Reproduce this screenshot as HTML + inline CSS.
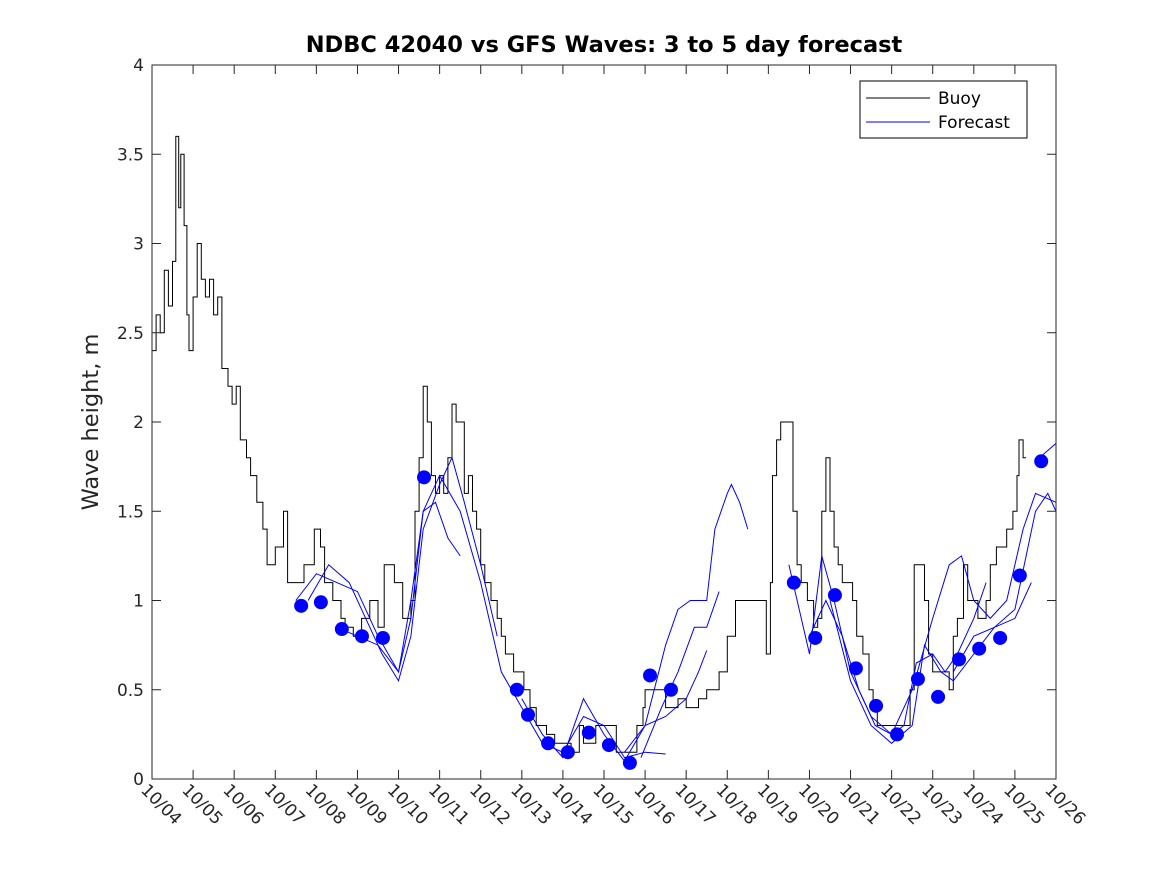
<!DOCTYPE html>
<html><head><meta charset="utf-8"><style>
body{margin:0;background:#fff;}
svg{display:block;font-family:"DejaVu Sans","Liberation Sans",sans-serif;}
</style></head><body>
<svg id="chart" width="1167" height="875" viewBox="0 0 1167 875" xmlns="http://www.w3.org/2000/svg">
<rect x="0" y="0" width="1167" height="875" fill="#fff"/>
<text x="604" y="52" text-anchor="middle" font-size="22.5" font-weight="bold" fill="#000">NDBC 42040 vs GFS Waves: 3 to 5 day forecast</text>
<text transform="translate(98,422) rotate(-90)" text-anchor="middle" font-size="22.5" fill="#262626">Wave height, m</text>
<g id="plot"></g>
<g>
<rect x="860" y="81" width="167" height="57" fill="#fff" stroke="#000" stroke-width="1"/>
<line x1="866" y1="98" x2="930" y2="98" stroke="#000" stroke-width="1"/>
<text x="938" y="104" font-size="17" fill="#000">Buoy</text>
<line x1="866" y1="122" x2="930" y2="122" stroke="#0000ff" stroke-width="1"/>
<text x="938" y="128" font-size="17" fill="#000">Forecast</text>
</g>
</svg>
<script>
const dayLabels=["10/04","10/05","10/06","10/07","10/08","10/09","10/10","10/11","10/12","10/13","10/14","10/15","10/16","10/17","10/18","10/19","10/20","10/21","10/22","10/23","10/24","10/25","10/26"];
const yTicks=[0,0.5,1,1.5,2,2.5,3,3.5,4];
const buoyDays=[0,0.1,0.2,0.3,0.4,0.5,0.58,0.65,0.7,0.78,0.85,0.9,1.0,1.1,1.2,1.3,1.4,1.5,1.6,1.7,1.85,1.95,2.05,2.15,2.3,2.4,2.55,2.7,2.8,3.0,3.1,3.2,3.3,3.6,3.7,3.8,3.95,4.1,4.2,4.4,4.6,4.7,4.9,5.1,5.3,5.5,5.65,5.9,6.1,6.2,6.3,6.4,6.5,6.6,6.7,6.8,6.9,7.0,7.1,7.2,7.3,7.4,7.5,7.6,7.7,7.8,7.9,8.0,8.1,8.25,8.4,8.5,8.6,8.8,8.95,9.05,9.2,9.35,9.6,9.8,10.0,10.2,10.4,10.5,10.7,10.8,11.1,11.3,11.6,11.8,11.95,12.0,12.2,12.5,12.8,13.0,13.3,13.5,13.6,13.8,14.0,14.2,14.5,14.8,14.95,15.05,15.1,15.2,15.3,15.5,15.6,15.7,15.8,15.95,16.1,16.2,16.3,16.4,16.5,16.6,16.7,16.8,17.05,17.15,17.3,17.45,17.55,17.65,17.7,18.45,18.55,18.65,18.8,18.9,19.0,19.2,19.4,19.5,19.6,19.75,19.85,19.95,20.1,20.3,20.4,20.55,20.65,20.8,20.95,21.05,21.1,21.2,21.27,21.3];
const buoyVals=[2.4,2.6,2.5,2.85,2.65,2.9,3.6,3.2,3.5,3.1,2.6,2.4,2.7,3.0,2.8,2.7,2.8,2.6,2.7,2.3,2.2,2.1,2.2,1.9,1.8,1.7,1.55,1.4,1.2,1.3,1.3,1.5,1.1,1.1,1.2,1.2,1.4,1.3,1.1,1.0,0.9,0.85,0.8,0.9,1.0,0.85,1.2,1.1,0.9,0.9,1.0,1.5,1.8,2.2,2.0,1.7,1.6,1.7,1.6,1.8,2.1,2.0,2.0,1.6,1.7,1.5,1.4,1.2,1.1,1.0,0.9,0.8,0.7,0.6,0.6,0.5,0.4,0.3,0.25,0.2,0.2,0.15,0.3,0.2,0.2,0.3,0.3,0.15,0.15,0.3,0.4,0.5,0.5,0.4,0.45,0.4,0.45,0.5,0.5,0.6,0.8,1.0,1.0,1.0,0.7,1.1,1.7,1.9,2.0,2.0,1.5,1.2,1.1,1.0,0.85,0.9,1.5,1.8,1.5,1.3,1.2,1.1,1.0,0.8,0.7,0.5,0.4,0.3,0.3,0.5,1.2,1.2,1.0,0.7,0.6,0.6,0.5,0.8,0.9,1.2,1.0,1.0,0.9,1.0,1.2,1.3,1.3,1.4,1.5,1.7,1.9,1.8];
const dotDays=[3.63,4.11,4.62,5.11,5.62,6.62,8.88,9.15,9.64,10.12,10.63,11.12,11.63,12.12,12.63,15.62,16.14,16.62,17.13,17.62,18.13,18.64,19.13,19.64,20.13,20.64,21.12,21.64];
const dotVals=[0.97,0.99,0.84,0.80,0.79,1.69,0.50,0.36,0.20,0.15,0.26,0.19,0.09,0.58,0.50,1.10,0.79,1.03,0.62,0.41,0.25,0.56,0.46,0.67,0.73,0.79,1.14,1.78];
const fc1=[[3.5,1.0],[4,1.15],[4.5,1.1],[5,1.05],[5.5,0.8],[6,0.6],[6.3,0.9],[6.6,1.5],[6.9,1.55],[7.2,1.35],[7.5,1.25]];
const fc2=[[3.8,1.0],[4.3,1.2],[4.8,1.1],[5.2,0.9],[5.6,0.7],[6.0,0.55],[6.3,0.8],[6.6,1.4],[7.0,1.65],[7.3,1.8],[7.6,1.55],[8.0,1.2],[8.4,0.8]];
const fc3=[[4.5,0.85],[5,0.8],[5.5,0.75],[6.0,0.6],[6.3,1.0],[6.6,1.5],[7.0,1.7],[7.5,1.5],[8.0,1.1],[8.5,0.6],[9.0,0.4],[9.5,0.2],[10,0.15],[10.5,0.35],[11,0.3],[11.5,0.12],[12,0.15],[12.5,0.14]];
const fc4=[[9,0.45],[9.5,0.25],[10,0.12],[10.5,0.45],[11,0.25],[11.5,0.1],[12,0.3],[12.5,0.35],[13,0.45],[13.3,0.6],[13.5,0.72]];
const fc5=[[11.5,0.15],[12,0.3],[12.5,0.75],[12.8,0.95],[13.1,1.0],[13.5,1.0],[13.7,1.4],[14.0,1.6],[14.1,1.65],[14.3,1.55],[14.5,1.4]];
const fc6=[[11.9,0.12],[12.4,0.4],[12.8,0.6],[13.2,0.85],[13.5,0.85],[13.8,1.05]];
const fc7=[[15.5,1.2],[16,0.7],[16.3,1.25],[16.6,1.0],[17,0.6],[17.5,0.35],[18,0.25],[18.3,0.3],[18.6,0.65],[19,0.7],[19.3,0.6],[19.6,0.7],[20,0.9],[20.3,1.1]];
const fc8=[[16,0.8],[16.4,1.0],[16.8,0.8],[17.2,0.5],[17.6,0.3],[18,0.25],[18.5,0.5],[19,0.9],[19.4,1.2],[19.7,1.25],[20.0,1.0],[20.4,0.9],[20.8,1.0],[21.2,1.4],[21.5,1.6],[22,1.55]];
const fc9=[[16.5,1.0],[17,0.55],[17.5,0.3],[18,0.2],[18.5,0.3],[18.8,0.75],[19.2,0.6],[19.5,0.55],[20,0.7],[20.5,0.85],[21,0.95],[21.5,1.5],[21.8,1.6],[22,1.5]];
const fc10=[[19.5,0.6],[20,0.8],[20.5,0.85],[21,0.9],[21.4,1.1]];
const fc11=[[21.5,1.78],[22,1.88]];
const forecasts=[fc1,fc2,fc3,fc4,fc5,fc6,fc7,fc8,fc9,fc10,fc11];

const L=152,R=1056,T=65,B=779;
const xS=d=>L+(R-L)*d/22;
const yS=v=>B-(B-T)*v/4;
const NS="http://www.w3.org/2000/svg";
const g=document.getElementById('plot');
function mk(t,a){const e=document.createElementNS(NS,t);for(const k in a)e.setAttribute(k,a[k]);g.appendChild(e);return e;}
const bg=mk('rect',{x:L,y:T,width:R-L,height:B-T,fill:'#fff'});


let p='';
buoyDays.forEach((d,i)=>{
  const x=xS(d).toFixed(1),y=yS(buoyVals[i]).toFixed(1);
  if(i===0)p+='M'+x+','+y;
  else p+='H'+x+'V'+y;
});
const bl=mk('path',{d:p,fill:'none',stroke:'#000','stroke-width':1});


forecasts.forEach((s,k)=>{
  const pts=s.map(q=>xS(q[0]).toFixed(1)+','+yS(q[1]).toFixed(1)).join(' ');
  const pl=mk('polyline',{points:pts,fill:'none',stroke:'#0000ff','stroke-width':1});
  
  
});
dotDays.forEach((d,i)=>{
  const c=mk('circle',{cx:xS(d),cy:yS(dotVals[i]),r:7,fill:'#0000ff'});
  
  
});
const box=mk('rect',{x:L,y:T,width:R-L,height:B-T,fill:'none',stroke:'#262626','stroke-width':1});


yTicks.forEach(v=>{
  const y=yS(v);
  mk('line',{x1:L,y1:y,x2:L+9,y2:y,stroke:'#262626'});
  mk('line',{x1:R,y1:y,x2:R-9,y2:y,stroke:'#262626'});
  const t=mk('text',{x:L-8,y:y+6,'text-anchor':'end','font-size':17,fill:'#262626'});
  t.textContent=String(v);
  
  
});
dayLabels.forEach((lab,i)=>{
  const x=xS(i);
  mk('line',{x1:x,y1:B,x2:x,y2:B-9,stroke:'#262626'});
  mk('line',{x1:x,y1:T,x2:x,y2:T+9,stroke:'#262626'});
  const t=mk('text',{x:x-12,y:B+12,'font-size':17,fill:'#262626',transform:`rotate(45 ${x-12} ${B+12})`});
  t.textContent=lab;
  
  
});
</script>
</body></html>
